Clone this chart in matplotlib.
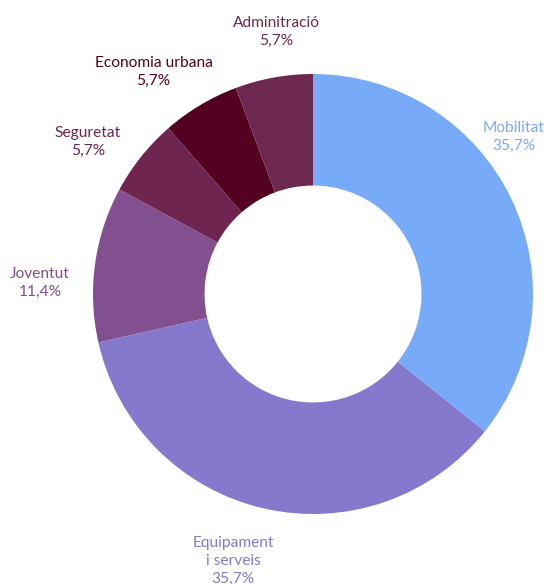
import matplotlib
matplotlib.use("Agg")
import matplotlib.pyplot as plt

categories = ["Mobilitat", "Equipament\ni serveis", "Joventut", "Seguretat", "Economia urbana", "Adminitració"]
values = [35.7, 35.7, 11.4, 5.7, 5.7, 5.7]
pct_labels = ["35,7%", "35,7%", "11,4%", "5,7%", "5,7%", "5,7%"]
colors = ["#78AAFA", "#8479CC", "#82508F", "#6E2550", "#540020", "#6D2850"]

# label anchors in pixels: (centre x, baseline y of first line)
label_px = [(513.5, 132), (233, 547), (40, 278), (88, 137), (153.5, 67), (276, 27)]
LINE_PITCH = 17.8

W, H = 550, 584
CX, CY, R = 313, 294, 220

fig = plt.figure(figsize=(W / 100, H / 100), dpi=100)
ax = fig.add_axes([0, 0, 1, 1])

ax.pie(values, colors=colors, startangle=90, counterclock=False,
       radius=1.0, wedgeprops=dict(width=0.507, linewidth=0))

ax.set_xlim(-CX / R, (W - CX) / R)
ax.set_ylim(-(H - CY) / R, CY / R)
ax.set_aspect("equal")
ax.axis("off")

FONT = "Lato"
# fit font size so that "Economia urbana" is ~118 px wide
renderer = fig.canvas.get_renderer()
probe = fig.text(0, 0, "Economia urbana", fontsize=10, family=FONT)
w10 = probe.get_window_extent(renderer).width
probe.remove()
fs = 10 * 118.0 / w10

for cat, pct, col, (px, py) in zip(categories, pct_labels, colors, label_px):
    lines = cat.split("\n") + [pct]
    for i, ln in enumerate(lines):
        x = (px - CX) / R
        y = (CY - (py + i * LINE_PITCH)) / R
        ax.text(x, y, ln, ha="center", va="baseline", color=col,
                fontsize=fs, family=FONT)

fig.savefig("out.png", dpi=100)
